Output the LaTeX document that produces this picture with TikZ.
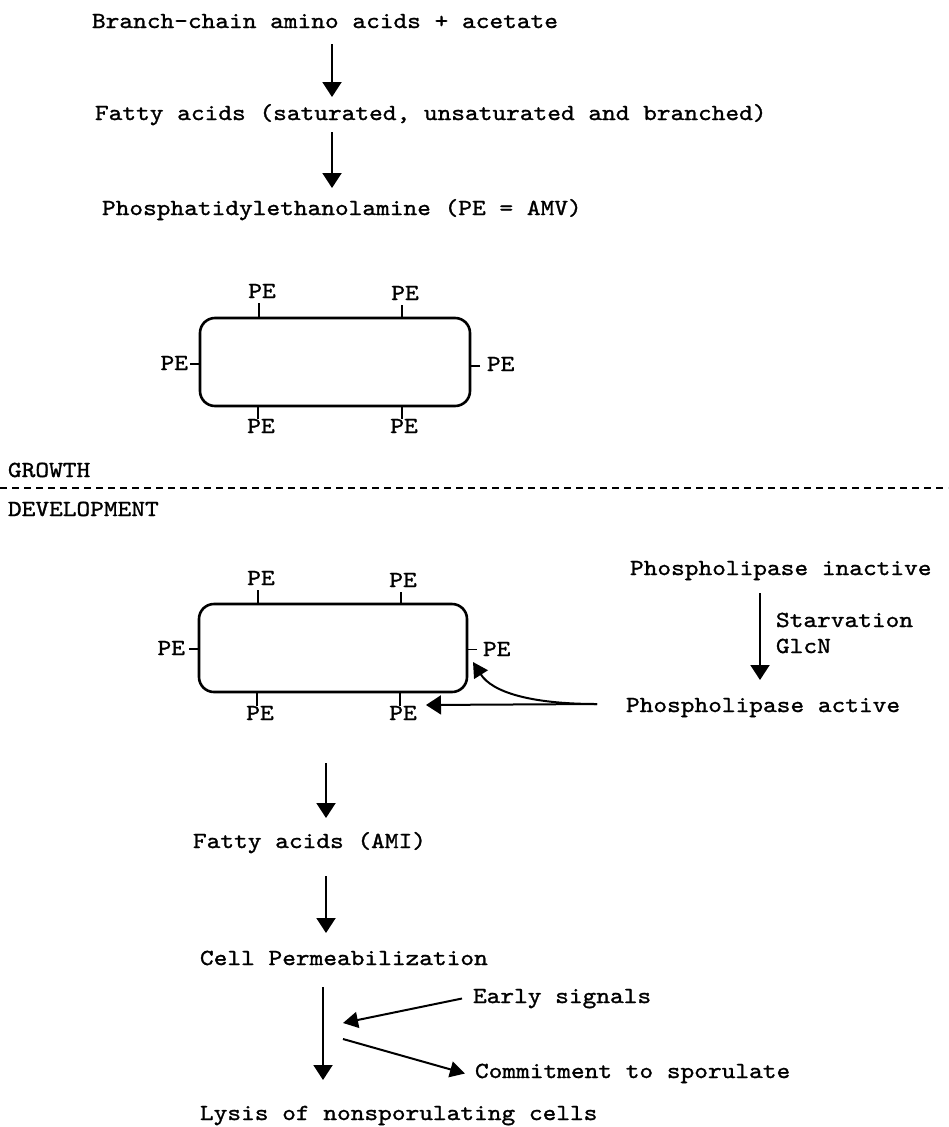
\documentclass[tikz,border=0pt]{standalone}
\usepackage{fontspec}
\usetikzlibrary{arrows.meta,calc}
\newfontfamily\courfont{lmmono10-regular.otf}[FakeStretch=1.135, FakeBold=1.2]
\begin{document}
\begin{tikzpicture}[x=1pt,y=-1pt,
  txt/.style={font=\courfont\fontsize{23}{27}\selectfont, inner sep=0pt, outer sep=0pt, text height=14pt, text depth=5pt, anchor=base west},
  pe/.style={txt, anchor=base},
  arr/.style={line width=2pt, -{Triangle[width=19pt,length=15pt]}},
  darr/.style={line width=2pt, -{Triangle[width=16pt,length=15pt]}},
  cell/.style={draw, line width=2.6pt, rounded corners=15pt, minimum height=88pt, inner sep=0pt},
  tick/.style={line width=2pt},
  divider/.style={line width=2pt, dash pattern=on 7pt off 5pt}]
\fill[white] (0,0) rectangle (948,1127);
\useasboundingbox (0,0) rectangle (948,1127);

% ---------- growth part ----------
\node[txt] (n1) at (92,28) {Branch-chain amino acids + acetate};
\node[txt] (n2) at (95,120) {Fatty acids (saturated, unsaturated and branched)};
\node[txt] (n3) at (102,215) {Phosphatidylethanolamine (PE = AMV)};
\coordinate (ax) at (332,0);
\draw[arr, shorten <=11pt, shorten >=9pt] (n1.south -| ax) -- (n2.north -| ax);
\draw[arr, shorten <=7pt, shorten >=13pt] (n2.south -| ax) -- (n3.north -| ax);

\node[cell, minimum width=270pt] (c1) at (335,362) {};
\node[pe] (p1a) at (262,298) {PE};
\node[pe] (p1b) at (405,300) {PE};
\node[pe] (p1c) at (261,433) {PE};
\node[pe] (p1d) at (404,433) {PE};
\node[txt, anchor=base east] (p1l) at (188,370) {PE};
\node[txt] (p1r) at (487,371) {PE};
\draw[tick] ([xshift=-3pt]p1a.south) -- ([xshift=-3pt]p1a.south |- c1.north);
\draw[tick] ([xshift=-3pt]p1b.south) -- ([xshift=-3pt]p1b.south |- c1.north);
\draw[tick] ([xshift=-3pt]p1c.north) -- ([xshift=-3pt]p1c.north |- c1.south);
\draw[tick] ([xshift=-2pt]p1d.north) -- ([xshift=-2pt]p1d.north |- c1.south);
\draw[tick] ([xshift=2pt,yshift=2pt]p1l.east) -- ([yshift=2pt]p1l.east -| c1.west);
\draw[tick] ([xshift=-7pt,yshift=1pt]p1r.west) -- ([yshift=1pt]p1r.west -| c1.east);

% ---------- divider ----------
\node[txt] (gr) at (8,477) {GROWTH};
\node[txt] (dev) at (8,516) {DEVELOPMENT};
\coordinate (dl) at (0,488);
\coordinate (dr) at (948,488);
\draw[divider] (dl) -- (dr);

% ---------- development part ----------
\node[cell, minimum width=268pt] (c2) at (333,648) {};
\node[pe] (p2a) at (261,585) {PE};
\node[pe] (p2b) at (403,587) {PE};
\node[pe] (p2c) at (260,720) {PE};
\node[pe] (p2d) at (403,720) {PE};
\node[txt, anchor=base east] (p2l) at (185,655) {PE};
\node[txt] (p2r) at (483,656) {PE};
\draw[tick] ([xshift=-3pt]p2a.south) -- ([xshift=-3pt]p2a.south |- c2.north);
\draw[tick] ([xshift=-2pt]p2b.south) -- ([xshift=-2pt]p2b.south |- c2.north);
\draw[tick] ([xshift=-3pt]p2c.north) -- ([xshift=-3pt]p2c.north |- c2.south);
\draw[tick] ([xshift=-3pt]p2d.north) -- ([xshift=-3pt]p2d.north |- c2.south);
\draw[tick] ([xshift=4pt,yshift=2pt]p2l.east) -- ([yshift=2pt]p2l.east -| c2.west);
\draw[tick, line width=1.5pt] ([xshift=-6pt,yshift=2pt]p2r.west) -- ([yshift=2pt]p2r.west -| c2.east);

\node[txt] (pi) at (630,575) {Phospholipase inactive};
\node[txt] (pa) at (626,712) {Phospholipase active};
\node[txt] (st) at (776,627) {Starvation};
\node[txt] (gl) at (776,653) {GlcN};
\coordinate (bx) at (760,0);
\draw[arr, shorten <=13pt, shorten >=18pt] (pi.south -| bx) -- (pa.north -| bx);

\coordinate (hs) at ([xshift=-29pt,yshift=3.5pt]pa.west);
\coordinate (hit) at (426,705);
\coordinate (cv) at (473,662);
\draw[arr] (hs) -- (hit);
\draw[darr] (hs) .. controls (530,704) and (492,692) .. (cv);

\node[txt] (fa) at (193,848) {Fatty acids (AMI)};
\node[txt] (cp) at (200,965) {Cell Permeabilization};
\node[txt] (ly) at (200,1120) {Lysis of nonsporulating cells};
\node[txt] (es) at (473,1003) {Early signals};
\node[txt] (cm) at (475,1078) {Commitment to sporulate};
\coordinate (cx) at (326,0);
\coordinate (dx) at (323,0);
\draw[arr, shorten <=70pt, shorten >=16pt] (c2.south -| cx) -- (fa.north -| cx);
\draw[arr, shorten <=23pt, shorten >=18pt] (fa.south -| cx) -- (cp.north -| cx);
\draw[arr, shorten <=17pt, shorten >=26pt] (cp.south -| dx) -- (ly.north -| dx);
\coordinate (j1) at (343,1023);
\coordinate (j2) at (343,1039);
\draw[darr] ([xshift=-11pt]es.west) -- (j1);
\draw[darr] (j2) -- ([xshift=-10pt]cm.west);
\end{tikzpicture}
\end{document}
